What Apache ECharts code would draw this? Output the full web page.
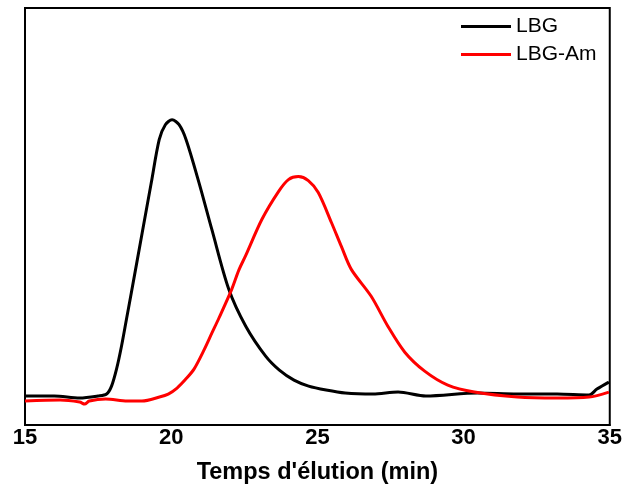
<!DOCTYPE html>
<html><head><meta charset="utf-8">
<script src="https://cdn.jsdelivr.net/npm/echarts@6/dist/echarts.min.js"></script>
<style>html,body{margin:0;padding:0;background:#fff}#c{width:625px;height:490px}</style>
</head><body><div id="c"></div>
<script>
const xTicks = [15, 20, 25, 30, 35];
const seriesNames = ['LBG', 'LBG-Am'];
const lbgX = [15.0,16.0,16.87,17.5,17.79,17.96,18.13,18.30,18.47,18.64,19.01,19.32,19.59,19.80,20.03,20.27,20.51,20.95,21.39,21.97,22.55,23.23,23.7,24.2,24.7,25.3,25.95,26.9,27.76,28.71,30.48,31.84,33.2,34.29,34.56,34.97];
const lbgY = [29,29,27,29,31,39,56,79,106,133,193,243,286,301,306,301,286,243,196,136,99,69,55,45,39,35,32,31,33,29,32,31,31,30,36,43];
const amX = [15.0,16.2,16.87,17.04,17.2,17.76,18.5,19.0,19.6,19.9,20.2,20.5,20.78,21.12,21.39,21.63,22.07,22.31,22.55,23.10,23.67,24.01,24.35,24.69,25.03,25.48,25.82,26.16,26.84,27.41,27.99,28.67,29.46,30.37,31.84,33.20,34.29,34.97];
const amY = [24,25,23,21,24,26,24,24,28,31,37,46,56,75,92,107,136,155,170,206,234,246,249,245,233,203,179,156,129,99,73,54,40,33,28,27,28,33];

const zip = (a, b) => a.map((v, i) => [v, b[i]]);
const chart = echarts.init(document.getElementById('c'), null, {renderer: 'canvas'});
const FONT = 'Liberation Sans, Arial, sans-serif';
chart.setOption({
  animation: false,
  backgroundColor: '#fff',
  grid: {left: 25, top: 8, right: 13, bottom: 64, show: true, borderColor: '#000', borderWidth: 2},
  legend: {
    orient: 'vertical', left: 461, top: 16, padding: 0, itemWidth: 50, itemHeight: 3, itemGap: 7,
    icon: 'rect',
    textStyle: {fontFamily: FONT, fontSize: 21, lineHeight: 21, color: '#000'},
    data: seriesNames
  },
  xAxis: {
    type: 'value', min: 15, max: 35, interval: 5,
    name: "Temps d'élution (min)", nameLocation: 'middle', nameGap: 36,
    nameTextStyle: {fontFamily: FONT, fontSize: 23.5, fontWeight: 'bold', color: '#000'},
    axisLine: {show: true, lineStyle: {color: '#000', width: 2}},
    axisTick: {show: false},
    axisLabel: {fontFamily: FONT, fontSize: 22, fontWeight: 'bold', color: '#000', margin: 2,
      formatter: v => xTicks.includes(v) ? String(v) : ''},
    splitLine: {show: false}
  },
  yAxis: {
    type: 'value', min: 0, max: 418,
    axisLine: {show: true, lineStyle: {color: '#000', width: 2}},
    axisTick: {show: false}, axisLabel: {show: false}, splitLine: {show: false}
  },
  series: [
    {name: seriesNames[0], type: 'line', data: zip(lbgX, lbgY), smooth: 0.3, symbol: 'none', lineStyle: {color: '#000', width: 3}, itemStyle: {color: '#000'}},
    {name: seriesNames[1], type: 'line', data: zip(amX, amY), smooth: 0.3, symbol: 'none', lineStyle: {color: '#ff0000', width: 3}, itemStyle: {color: '#ff0000'}}
  ]
});
</script></body></html>
